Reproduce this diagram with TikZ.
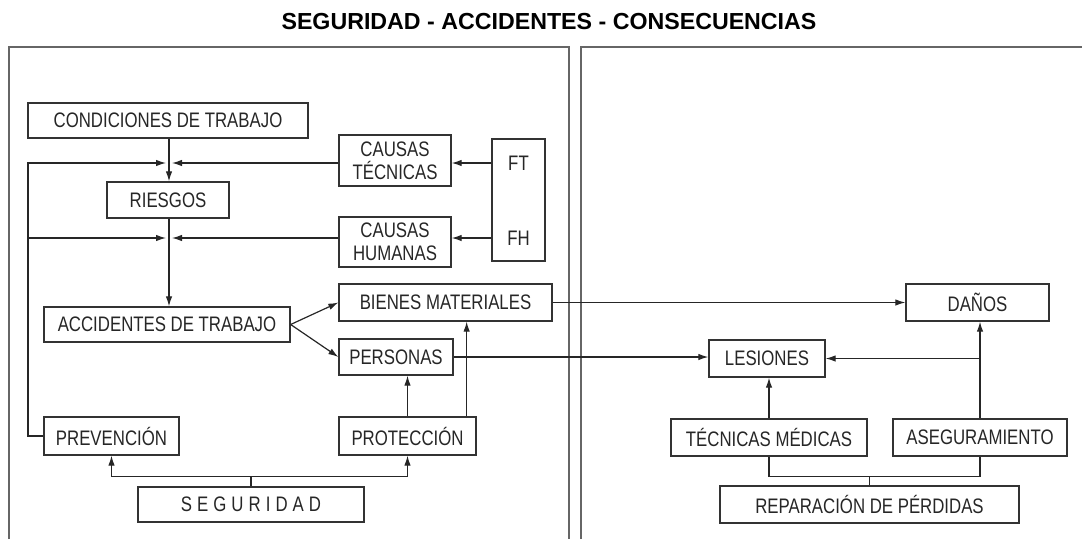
\documentclass[tikz,border=0pt]{standalone}
\usepackage{fontspec}
\setmainfont{Liberation Sans}[FakeStretch=0.8]
\newfontfamily\titlefont{Liberation Sans}
\newfontfamily\spacedfont{Liberation Sans}[FakeStretch=0.8,LetterSpace=24]
\usetikzlibrary{arrows.meta}

\begin{document}
\begin{tikzpicture}[x=1pt,y=-1pt,
    lbl/.style={text=black!85,font=\fontsize{21}{23}\selectfont},
    box/.style={lbl,draw=black!80,line width=1.3pt,inner sep=0pt,align=center},
    arr/.style={-{Latex[length=10pt,width=6.5pt]},line width=1.2pt,black!85},
    line/.style={line width=1.2pt,black!85},
    panel/.style={draw=black!60,line width=2pt}]
  \useasboundingbox (0,0) rectangle (1082,539);

  \node[font=\titlefont\bfseries\fontsize{23.2}{26}\selectfont] (title) at (549,22) {SEGURIDAD - ACCIDENTES - CONSECUENCIAS};
  \draw[panel] (9,539) -- (9,47) -- (569,47) -- (569,539);
  \draw[panel] (581,539) -- (581,47) -- (1082,47);

  \node[box,minimum width=280,minimum height=35] (cond) at (168,120.5) {CONDICIONES DE TRABAJO};
  \node[box,minimum width=122,minimum height=36] (ries) at (168,200) {RIESGOS};
  \node[box,minimum width=112,minimum height=51] (ct) at (395,160.5) {CAUSAS\\TÉCNICAS};
  \node[box,minimum width=112,minimum height=50] (ch) at (395,242) {CAUSAS\\HUMANAS};
  \node[box,minimum width=53,minimum height=122] (ftfh) at (518.5,200) {};
  \node[lbl] (ft) at (518.5,163) {FT};
  \node[lbl] (fh) at (518.5,238) {FH};
  \node[box,minimum width=246,minimum height=35] (acc) at (167,324.5) {ACCIDENTES DE TRABAJO};
  \node[box,minimum width=213,minimum height=37] (bm) at (445.5,302.5) {BIENES MATERIALES};
  \node[box,minimum width=114,minimum height=36] (pe) at (396,357) {PERSONAS};
  \node[box,minimum width=135,minimum height=38] (prev) at (111.5,436) {PREVENCIÓN};
  \node[box,minimum width=137,minimum height=38] (prot) at (407.5,436) {PROTECCIÓN};
  \node[box,minimum width=226,minimum height=35,font=\spacedfont\fontsize{21}{23}\selectfont] (seg) at (251,504.5) {SEGURIDAD};

  \node[box,minimum width=143,minimum height=37] (dan) at (977.5,302.5) {DAÑOS};
  \node[box,minimum width=116,minimum height=37] (les) at (767,358.5) {LESIONES};
  \node[box,minimum width=196,minimum height=37] (tec) at (769,437.5) {TÉCNICAS MÉDICAS};
  \node[box,minimum width=174,minimum height=37] (ase) at (980,437.5) {ASEGURAMIENTO};
  \node[box,minimum width=299,minimum height=37] (rep) at (869.5,504.5) {REPARACIÓN DE PÉRDIDAS};

  \coordinate (j1) at (169,163);
  \coordinate (j2) at (169,238);
  \coordinate (fb) at (28,163);

  \draw[arr] (cond.south -| j1) -- (ries.north -| j1);
  \draw[arr] (ries.south -| j1) -- (acc.north -| j1);
  \draw[arr] (prev.west) -| (fb) -- ([xshift=-3pt]j1);
  \draw[arr] (fb |- j2) -- ([xshift=-3pt]j2);
  \draw[arr] (ct.west |- j1) -- ([xshift=3pt]j1);
  \draw[arr] (ch.west |- j2) -- ([xshift=3pt]j2);
  \draw[arr] (ftfh.west |- j1) -- (ct.east |- j1);
  \draw[arr] (ftfh.west |- j2) -- (ch.east |- j2);
  \draw[arr] (acc.east) -- (bm.west);
  \draw[arr] (acc.east) -- (pe.west);
  \draw[arr] (prot.north) -- (prot.north |- pe.south);
  \coordinate (pp) at ([xshift=-10pt]prot.north east);
  \draw[arr] (pp) -- (pp |- bm.south);
  \draw[line] (seg.north) -- ++(0,-10) coordinate (sb);
  \draw[arr] (sb) -| (prev.south);
  \draw[arr] (sb) -| (prot.south);

  \draw[arr] (bm.east) -- (bm.east -| dan.west);
  \draw[arr] (pe.east) -- (pe.east -| les.west);
  \draw[arr] (tec.north) -- (tec.north |- les.south);
  \draw[arr] (ase.north) -- (ase.north |- dan.south);
  \draw[arr] (ase.north |- les.east) -- (les.east);
  \draw[line] (rep.north) -- ++(0,-9) coordinate (rb);
  \draw[line] (rb) -| (tec.south);
  \draw[line] (rb) -| (ase.south);
\end{tikzpicture}
\end{document}
